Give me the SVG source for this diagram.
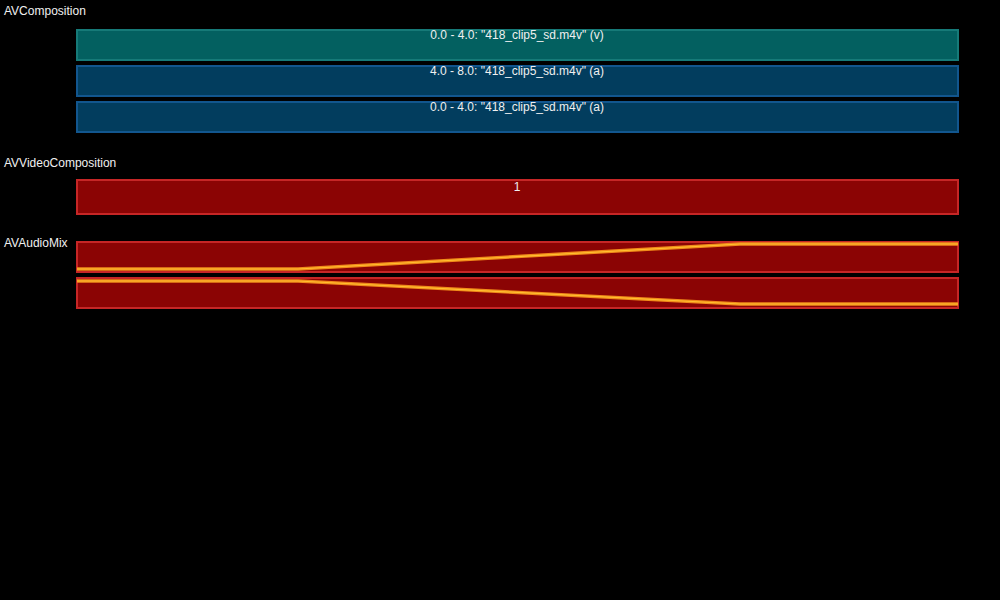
<svg xmlns="http://www.w3.org/2000/svg" width="1000" height="600" viewBox="0 0 1000 600">
<style>
text{font-family:"Liberation Sans",Arial,sans-serif;font-size:12px;fill:#f0f0f0}
.c{text-anchor:middle}
.v{fill:#036060;stroke:#167a78;stroke-width:2}
.a{fill:#023d5e;stroke:#12568e;stroke-width:2}
.r{fill:#8b0404;stroke:#c62626;stroke-width:2}
.ramp{fill:none;stroke:#f08a1a;stroke-width:3.5}
.core{fill:none;stroke:#ffc030;stroke-width:1.2}
</style>
<rect width="1000" height="600" fill="#000"/>
<g id="composition">
<text x="4" y="15">AVComposition</text>
<g id="track-v"><rect class="v" x="77" y="30" width="881" height="30"/><text class="c" x="517" y="39">0.0 - 4.0: "418_clip5_sd.m4v" (v)</text></g>
<g id="track-a1"><rect class="a" x="77" y="66" width="881" height="30"/><text class="c" x="517" y="75">4.0 - 8.0: "418_clip5_sd.m4v" (a)</text></g>
<g id="track-a2"><rect class="a" x="77" y="102" width="881" height="30"/><text class="c" x="517" y="111">0.0 - 4.0: "418_clip5_sd.m4v" (a)</text></g>
</g>
<g id="videocomposition">
<text x="4" y="167">AVVideoComposition</text>
<g id="instruction-1"><rect class="r" x="77" y="180" width="881" height="34"/><text class="c" x="517" y="191">1</text></g>
</g>
<g id="audiomix">
<text x="4" y="247">AVAudioMix</text>
<g id="mix-1"><rect class="r" x="77" y="242" width="881" height="30"/></g>
<g id="mix-2"><rect class="r" x="77" y="278" width="881" height="30"/></g>
</g>
<g id="connectors">
<polyline class="ramp" points="77,269 298,269 740,244 958,244"/>
<polyline class="core" points="77,269 298,269 740,244 958,244"/>
<polyline class="ramp" points="77,281 298,281 740,304 958,304"/>
<polyline class="core" points="77,281 298,281 740,304 958,304"/>
</g>
</svg>
